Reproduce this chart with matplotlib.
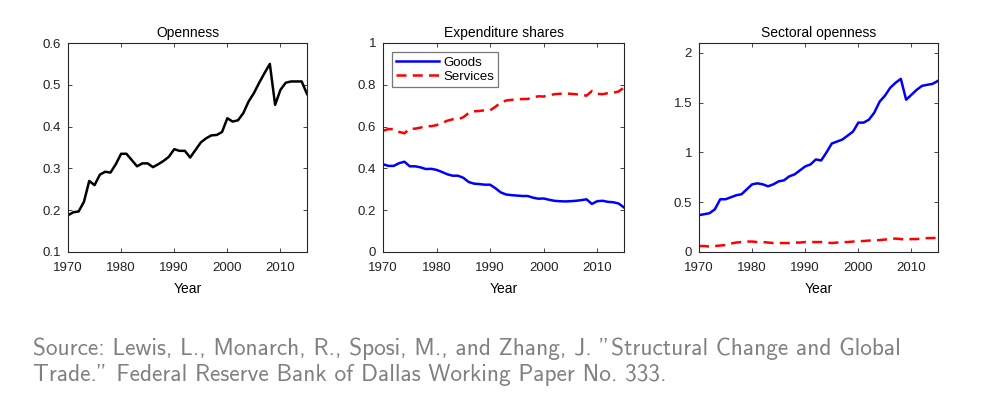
import matplotlib
matplotlib.use("Agg")
import matplotlib.pyplot as plt

years = list(range(1970, 2016))

openness = [0.188, 0.195, 0.197, 0.22, 0.27, 0.26, 0.285, 0.292, 0.29, 0.31,
            0.335, 0.335, 0.32, 0.305, 0.312, 0.312, 0.303, 0.31, 0.318, 0.328,
            0.346, 0.342, 0.342, 0.326, 0.344, 0.362, 0.372, 0.379, 0.38, 0.387,
            0.42, 0.412, 0.415, 0.432, 0.46, 0.48, 0.505, 0.528, 0.55, 0.452,
            0.488, 0.505, 0.508, 0.508, 0.508, 0.478]

goods_share = [0.42, 0.412, 0.412, 0.425, 0.432, 0.41, 0.41, 0.405, 0.397, 0.398,
               0.393, 0.383, 0.372, 0.365, 0.365, 0.355, 0.335, 0.327, 0.325, 0.322,
               0.322, 0.305, 0.285, 0.275, 0.272, 0.27, 0.268, 0.268, 0.26, 0.255,
               0.256, 0.25, 0.245, 0.243, 0.242, 0.243, 0.245, 0.248, 0.252, 0.23,
               0.243, 0.245, 0.24, 0.238, 0.232, 0.213]

services_share = [0.58, 0.588, 0.588, 0.575, 0.568, 0.59, 0.59, 0.595, 0.603, 0.602,
                  0.607, 0.617, 0.628, 0.635, 0.635, 0.645, 0.665, 0.673, 0.675, 0.678,
                  0.678, 0.695, 0.715, 0.725, 0.728, 0.73, 0.732, 0.732, 0.74, 0.745,
                  0.744, 0.75, 0.755, 0.757, 0.758, 0.757, 0.755, 0.752, 0.748, 0.77,
                  0.757, 0.755, 0.76, 0.762, 0.768, 0.787]

goods_open = [0.37, 0.38, 0.39, 0.43, 0.53, 0.53, 0.55, 0.57, 0.58, 0.63,
              0.68, 0.69, 0.68, 0.66, 0.68, 0.71, 0.72, 0.76, 0.78, 0.82,
              0.86, 0.88, 0.93, 0.92, 1.0, 1.09, 1.11, 1.13, 1.17, 1.21,
              1.30, 1.30, 1.33, 1.40, 1.51, 1.57, 1.65, 1.70, 1.74, 1.53,
              1.58, 1.63, 1.67, 1.68, 1.69, 1.72]

services_open = [0.06, 0.06, 0.055, 0.06, 0.065, 0.07, 0.085, 0.095, 0.1, 0.105,
                 0.105, 0.1, 0.1, 0.095, 0.09, 0.09, 0.09, 0.09, 0.095, 0.095,
                 0.1, 0.1, 0.1, 0.1, 0.095, 0.09, 0.095, 0.1, 0.1, 0.105,
                 0.11, 0.11, 0.115, 0.115, 0.12, 0.125, 0.13, 0.135, 0.13, 0.125,
                 0.13, 0.13, 0.135, 0.14, 0.14, 0.145]

xticks = [1970, 1980, 1990, 2000, 2010]
titles = ["Openness", "Expenditure shares", "Sectoral openness"]
source = ('Source: Lewis, L., Monarch, R., Sposi, M., and Zhang, J. "Structural Change and Global\n'
          'Trade." Federal Reserve Bank of Dallas Working Paper No. 333.')

plt.rcParams['font.family'] = ['Liberation Sans', 'DejaVu Sans']

fig = plt.figure(figsize=(9.84, 3.93), dpi=100)
W, H = 984, 393

def mkax(x0, x1, y0, y1):
    return fig.add_axes([x0 / W, 1 - y1 / H, (x1 - x0) / W, (y1 - y0) / H])

axes = [mkax(68, 307, 43, 252), mkax(383, 624, 43, 252), mkax(699, 938, 43, 252)]

blue = '#0000ff'
red = '#ff0000'
dash = (0, (4, 2.5))

axes[0].plot(years, openness, color='black', lw=1.8)
axes[0].set_ylim(0.1, 0.6)
axes[0].set_yticks([0.1, 0.2, 0.3, 0.4, 0.5, 0.6])
axes[0].set_yticklabels(['0.1', '0.2', '0.3', '0.4', '0.5', '0.6'])

axes[1].plot(years, goods_share, color=blue, lw=1.8, label='Goods')
axes[1].plot(years, services_share, color=red, lw=1.8, ls=dash, label='Services')
axes[1].set_ylim(0, 1)
axes[1].set_yticks([0, 0.2, 0.4, 0.6, 0.8, 1])
axes[1].set_yticklabels(['0', '0.2', '0.4', '0.6', '0.8', '1'])
leg = axes[1].legend(loc='upper left', bbox_to_anchor=(0.037, 0.955), fontsize=9.5,
                     frameon=True, fancybox=False, edgecolor='#555555',
                     handlelength=3.3, borderpad=0.3, labelspacing=0.15,
                     handletextpad=0.3, borderaxespad=0)
leg.get_frame().set_linewidth(0.9)

axes[2].plot(years, goods_open, color=blue, lw=1.8)
axes[2].plot(years, services_open, color=red, lw=1.8, ls=dash)
axes[2].set_ylim(0, 2.1)
axes[2].set_yticks([0, 0.5, 1, 1.5, 2])
axes[2].set_yticklabels(['0', '0.5', '1', '1.5', '2'])

for ax, t in zip(axes, titles):
    ax.set_xlim(1970, 2015)
    ax.set_xticks(xticks)
    ax.set_title(t, fontsize=10, pad=4)
    ax.set_xlabel('Year', fontsize=10, labelpad=6)
    ax.tick_params(direction='in', top=True, right=True, labelsize=9.5,
                   length=3, width=0.6, colors='#262626', labelcolor='#222222')
    ax.tick_params(axis='y', pad=5)
    ax.tick_params(axis='x', pad=7)
    for s in ax.spines.values():
        s.set_linewidth(0.8)
        s.set_color('#262626')

fig.text(33 / W, 1 - 338 / H, source, fontsize=16.8, color='#808080',
         family='cmss10', va='top', ha='left', linespacing=1.22)

fig.savefig('out.png', dpi=100)
